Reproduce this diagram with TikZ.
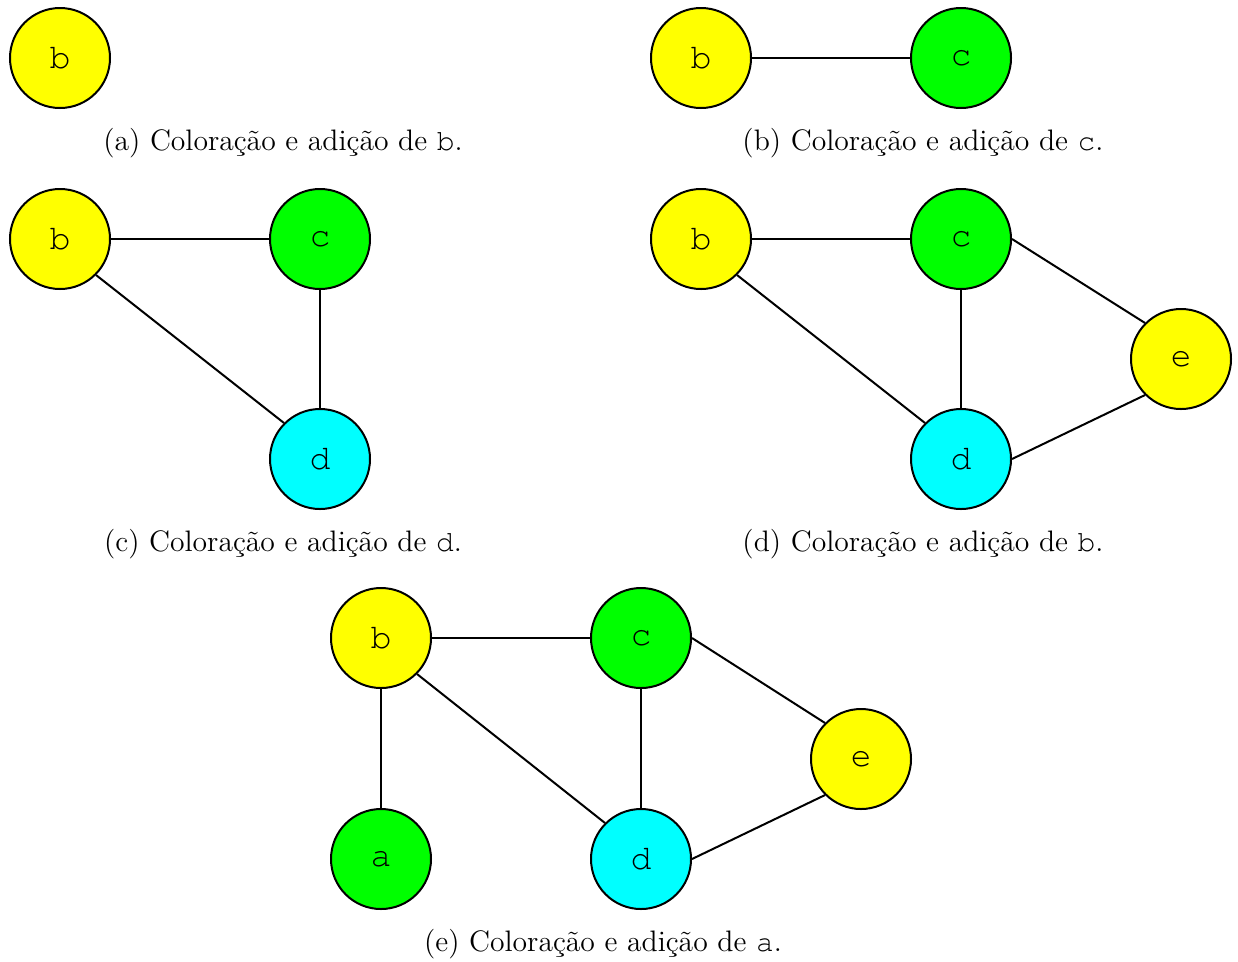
\documentclass[tikz,border=0pt]{standalone}
\usepackage[T1,TU]{fontenc}
\newcommand\cour{\usefont{T1}{pcr}{m}{n}}
\definecolor{vyellow}{RGB}{255,255,0}
\definecolor{vgreen}{RGB}{0,255,0}
\definecolor{vcyan}{RGB}{0,255,255}
\tikzset{
  vtx/.style={circle, draw=black, line width=0.8pt, minimum size=40pt, inner sep=0pt, font=\cour\fontsize{14}{16}\selectfont},
  yel/.style={vtx, fill=vyellow},
  grn/.style={vtx, fill=vgreen},
  cya/.style={vtx, fill=vcyan},
  edge/.style={line width=0.8pt},
  captext/.style={font=\fontsize{11.85}{14}\selectfont, inner sep=0pt}
}
\begin{document}
\begin{tikzpicture}[x=0.4pt, y=-0.4pt]
\useasboundingbox (0,0) rectangle (1238,961);

% (a)
\node[yel] (ab) at (60,58) {b};
\node[captext] (acap) at (283,143) {(a) Coloração e adição de {\cour b}.};

% (b)
\node[yel] (bb) at (701,58) {b};
\node[grn] (bc) at (961,58) {c};
\draw[edge] (bb.east) -- (bc.west);
\node[captext] (bcap) at (923,143) {(b) Coloração e adição de {\cour c}.};

% (c)
\node[yel] (cb) at (60,239) {b};
\node[grn] (cc) at (320,239) {c};
\node[cya] (cd) at (320,459) {d};
\draw[edge] (cb.east) -- (cc.west);
\draw[edge] (cb.south east) -- (cd.north west);
\draw[edge] (cc.south) -- (cd.north);
\node[captext] (ccap) at (283,544) {(c) Coloração e adição de {\cour d}.};

% (d)
\node[yel] (db) at (701,239) {b};
\node[grn] (dc) at (961,239) {c};
\node[yel] (de) at (1181,359) {e};
\node[cya] (dd) at (961,459) {d};
\draw[edge] (db.east) -- (dc.west);
\draw[edge] (db.south east) -- (dd.north west);
\draw[edge] (dc.south) -- (dd.north);
\draw[edge] (dc.east) -- (de.north west);
\draw[edge] (dd.east) -- (de.south west);
\node[captext] (dcap) at (923,544) {(d) Coloração e adição de {\cour b}.};

% (e)
\node[yel] (eb) at (381,638) {b};
\node[grn] (ec) at (641,638) {c};
\node[yel] (ee) at (861,759) {e};
\node[grn] (ea) at (381,859) {a};
\node[cya] (ed) at (641,859) {d};
\draw[edge] (eb.east) -- (ec.west);
\draw[edge] (eb.south east) -- (ed.north west);
\draw[edge] (eb.south) -- (ea.north);
\draw[edge] (ec.south) -- (ed.north);
\draw[edge] (ec.east) -- (ee.north west);
\draw[edge] (ed.east) -- (ee.south west);
\node[captext] (ecap) at (603,944) {(e) Coloração e adição de {\cour a}.};
\end{tikzpicture}
\end{document}
